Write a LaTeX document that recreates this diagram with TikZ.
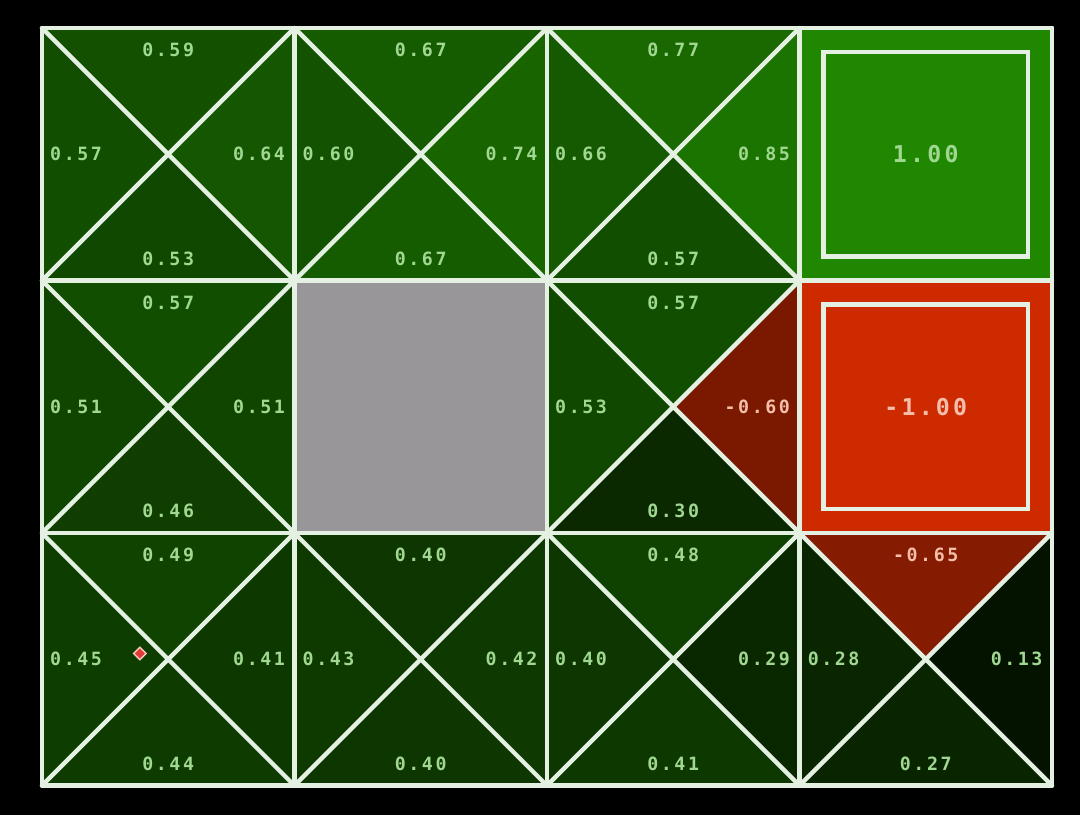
\documentclass[tikz,border=0pt]{standalone}
\usepackage{fontspec}
\newfontfamily\qfont[LetterSpace=14]{DejaVu Sans Mono}
\usetikzlibrary{shapes.geometric}

\definecolor{qgreen}{RGB}{32,136,0}
\definecolor{qred}{RGB}{205,42,0}
\definecolor{qgreentext}{RGB}{160,215,145}
\definecolor{qredtext}{RGB}{245,190,170}
\definecolor{gridline}{RGB}{228,240,225}
\definecolor{wallgray}{RGB}{152,150,152}
\definecolor{agentred}{RGB}{225,60,55}
\definecolor{agentedge}{RGB}{250,200,190}

% shade of one triangle from its value: green when positive, red when negative
\newcommand{\qshade}[2]{%
  \pgfmathsetmacro{\qpct}{abs(#1)*100}%
  \pgfmathtruncatemacro{\qneg}{#1<0}%
  \ifnum\qneg=1
    \colorlet{#2}{qred!\qpct!black}\colorlet{#2txt}{qredtext}%
  \else
    \colorlet{#2}{qgreen!\qpct!black}\colorlet{#2txt}{qgreentext}%
  \fi}

\begin{document}
\begin{tikzpicture}[
    x=2.525cm, y=2.525cm,
    qlabel/.style={inner sep=0pt, font=\qfont\bfseries\fontsize{5.2pt}{6pt}\selectfont},
    terminal/.style={inner sep=0pt, font=\qfont\bfseries\fontsize{6.6pt}{7pt}\selectfont},
    cellline/.style={draw=gridline, line width=1.25pt},
    agent/.style={diamond, fill=agentred, draw=agentedge, line width=0.4pt,
        minimum size=0.13cm, inner sep=0pt}
]

% black backdrop, also fixes the margins
\fill[black] (-0.166,-0.115) rectangle (4.111,3.111);

% Q-value cells: x/y/north/west/east/south
\foreach \cx/\cy/\vn/\vw/\ve/\vs in {
    0/2/0.59/0.57/0.64/0.53, 1/2/0.67/0.60/0.74/0.67, 2/2/0.77/0.66/0.85/0.57,
    0/1/0.57/0.51/0.51/0.46, 2/1/0.57/0.53/-0.60/0.30,
    0/0/0.49/0.45/0.41/0.44, 1/0/0.40/0.43/0.42/0.40, 2/0/0.48/0.40/0.29/0.41,
    3/0/-0.65/0.28/0.13/0.27}{
    \coordinate (c-\cx-\cy) at (\cx+0.5,\cy+0.5);
    \qshade{\vn}{fillN}\qshade{\vw}{fillW}\qshade{\ve}{fillE}\qshade{\vs}{fillS}
    \fill[fillN] (\cx,\cy+1) -- (\cx+1,\cy+1) -- (c-\cx-\cy) -- cycle;
    \fill[fillS] (\cx,\cy) -- (\cx+1,\cy) -- (c-\cx-\cy) -- cycle;
    \fill[fillW] (\cx,\cy) -- (\cx,\cy+1) -- (c-\cx-\cy) -- cycle;
    \fill[fillE] (\cx+1,\cy) -- (\cx+1,\cy+1) -- (c-\cx-\cy) -- cycle;
    \draw[cellline] (\cx,\cy) -- (\cx+1,\cy+1) (\cx,\cy+1) -- (\cx+1,\cy);
    \node[qlabel, text=fillNtxt] (n-\cx-\cy) at (\cx+0.5,\cy+0.913) {\vn};
    \node[qlabel, text=fillStxt] (s-\cx-\cy) at (\cx+0.5,\cy+0.087) {\vs};
    \node[qlabel, text=fillWtxt, anchor=west] (w-\cx-\cy) at (\cx+0.03,\cy+0.5) {\vw};
    \node[qlabel, text=fillEtxt, anchor=east] (e-\cx-\cy) at (\cx+0.965,\cy+0.5) {\ve};
}

% wall
\fill[wallgray] (1,1) rectangle (2,2);

% terminal cells
\fill[qgreen] (3,2) rectangle (4,3);
\draw[cellline] (3.095,2.095) rectangle (3.905,2.905);
\node[terminal, text=qgreentext] (goal) at (3.5,2.5) {1.00};
\fill[qred] (3,1) rectangle (4,2);
\draw[cellline] (3.095,1.095) rectangle (3.905,1.905);
\node[terminal, text=qredtext] (pit) at (3.5,1.5) {-1.00};

% grid
\foreach \gx in {0,...,4}
    \draw[cellline, line cap=round] (\gx,0) -- (\gx,3);
\foreach \gy in {0,...,3}
    \draw[cellline, line cap=round] (0,\gy) -- (4,\gy);

% agent
\node[agent] (agent) at (0.388,0.523) {};

\end{tikzpicture}
\end{document}
